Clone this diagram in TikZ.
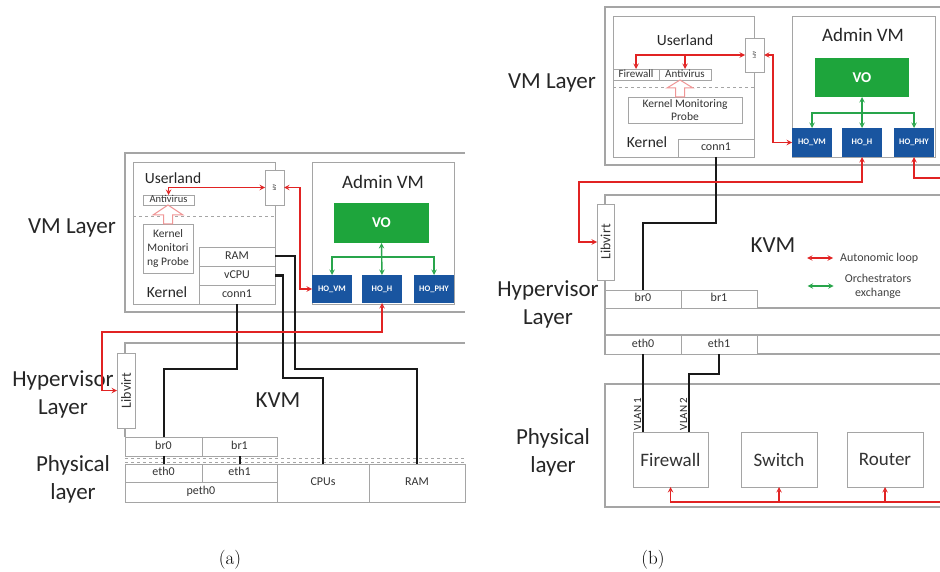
\documentclass[tikz,border=0pt]{standalone}
\usepackage{fontspec}
\setsansfont{Carlito}
\renewcommand{\familydefault}{\sfdefault}
\usetikzlibrary{arrows}
\definecolor{loopred}{RGB}{225,35,35}
\definecolor{orchgreen}{RGB}{40,165,75}
\definecolor{vogreen}{RGB}{30,165,60}
\definecolor{hoblue}{RGB}{25,85,160}
\definecolor{framegray}{RGB}{165,165,165}
\definecolor{probepink}{RGB}{240,150,150}
\tikzset{
	>=stealth, % small solid heads
	box/.style={draw=framegray, line width=0.9pt, fill=white, inner sep=0pt, outer sep=0pt, text=black!80, align=center}, % plain grey box
	cell/.style={box, text height=1.5ex, text depth=.3ex, font=\fontsize{12}{14}\selectfont}, % one-line grey box
	ho/.style={fill=hoblue, inner sep=0pt, outer sep=0pt, text=white, font=\bfseries\fontsize{8.5}{10}\selectfont, minimum width=40pt, minimum height=28pt}, % host orchestrators
	vo/.style={fill=vogreen, inner sep=0pt, outer sep=0pt, text=white, font=\bfseries\fontsize{15}{17}\selectfont}, % VM orchestrator
	layerline/.style={draw=framegray, line width=1.1pt}, % frame of a layer
	layertext/.style={font=\fontsize{23}{28}\selectfont, align=center, text=black!85, inner sep=0pt}, % layer names
	headtext/.style={font=\fontsize{15.5}{18}\selectfont, text=black!85, inner sep=0pt}, % Userland, Kernel
	admintext/.style={font=\fontsize{19}{22}\selectfont, text=black!85, inner sep=0pt},
	legend/.style={font=\fontsize{12}{14}\selectfont, text=black!75, inner sep=0pt, align=center},
	vlan/.style={font=\fontsize{11}{13}\selectfont, text=black!85, inner sep=1pt},
	autoloop/.style={draw=loopred, line width=1.4pt, <->}, % red loop
	orch/.style={draw=orchgreen, line width=1.4pt, <->}, % green exchange
	wire/.style={draw=black!90, line width=2pt}, % black links
	probe/.style={draw=probepink, line width=1pt, fill=white}, % hollow arrow
}
\begin{document}
\begin{tikzpicture}[x=1pt, y=-1pt]
	\useasboundingbox (0,0) rectangle (940,572);

	% ---------- (a) ----------
	\draw[layerline] (465,153) -- (125,153) -- (125,312) -- (465,312);
	\draw[layerline] (465,343) -- (125,343) -- (125,437);
	\draw[framegray, dashed, line width=0.7pt] (125,458) -- (465,458) (125,462) -- (465,462);

	\node[box, minimum width=142pt, minimum height=142pt] (guestA) at (204,233) {};
	\draw[framegray, dashed, line width=0.8pt] (133,216) -- (275,216);
	\node[headtext] (userA) at (173,178) {Userland};
	\node[headtext] (kernA) at (167,292) {Kernel};
	\node[cell, font=\fontsize{10.5}{12}\selectfont, minimum width=51pt, minimum height=10pt] (avA) at (168.5,200) {Antivirus};
	\node[box, font=\fontsize{11.5}{14}\selectfont, minimum width=50pt, minimum height=49pt] (kmpA) at (168,248.5) {Kernel\\Monitori\\ng Probe};
	\node[cell, minimum width=76pt, minimum height=19pt] (ramA) at (237,256.5) {RAM};
	\node[cell, minimum width=76pt, minimum height=19pt] (vcpuA) at (237,275.5) {vCPU};
	\node[cell, minimum width=76pt, minimum height=19pt] (conn1A) at (237,294.5) {conn1};
	\node[box, font=\fontsize{5}{6}\selectfont, minimum width=19pt, minimum height=35pt] (apiA) at (274.5,187.5) {\rotatebox{-90}{API}};
	\draw[probe, shift={(kmpA.north)}] (-4.5,0) -- (-4.5,-9) -- (-15,-9) -- (0,-19) -- (15,-9) -- (4.5,-9) -- (4.5,0) -- cycle;

	\node[box, minimum width=142pt, minimum height=142pt] (adminA) at (383,233) {};
	\node[admintext] (admtA) at (383,182) {Admin VM};
	\node[vo, minimum width=95pt, minimum height=40pt] (voA) at (381.5,223) {VO};
	\node[ho] (hovmA) at (332,289) {HO\_VM};
	\node[ho] (hohA) at (382,289) {HO\_H};
	\node[ho] (hophyA) at (434,289) {HO\_PHY};

	\node[box, font=\fontsize{14}{16}\selectfont, minimum width=18pt, minimum height=75pt] (libvirtA) at (126,390.5) {\rotatebox{90}{Libvirt}};
	\node[layertext] (kvmA) at (278,400) {KVM};
	\node[cell, minimum width=77pt, minimum height=19pt] (br0A) at (163.5,446.5) {br0};
	\node[cell, minimum width=75pt, minimum height=19pt] (br1A) at (239.5,446.5) {br1};
	\node[cell, minimum width=77pt, minimum height=18pt] (eth0A) at (163.5,473) {eth0};
	\node[cell, minimum width=75pt, minimum height=18pt] (eth1A) at (239.5,473) {eth1};
	\node[cell, minimum width=152pt, minimum height=20pt] (peth0A) at (201,492) {peth0};
	\node[cell, minimum width=92pt, minimum height=38pt] (cpusA) at (323,483) {CPUs};
	\node[cell, minimum width=96pt, minimum height=38pt] (ramhA) at (417,483) {RAM};

	\node[layertext] (vmlA) at (72,228) {VM Layer};
	\node[layertext] (hvlA) at (63,394) {Hypervisor\\Layer};
	\node[layertext] (phlA) at (73,479) {Physical\\layer};

	\draw[wire] (conn1A.south) -- ++(0,65) -| (br0A.north);
	\draw[wire] (vcpuA.east) -- ++(8,0) -- ++(0,102) -| (cpusA.north);
	\draw[wire] (ramA.east) -- ++(20,0) -- ++(0,112) -| (ramhA.north);
	\draw[wire] (br0A.south) -- (eth0A.north);
	\draw[wire] (br1A.south) -- (eth1A.north);

	\draw[autoloop] (avA.north) |- (apiA.west);
	\draw[autoloop] (apiA.east) -- ++(16,0) |- (hovmA.west);
	\draw[autoloop] (hohA.south) -- ++(0,29) -| ([xshift=-15pt]libvirtA.west) -- (libvirtA.west);
	\draw[orch] (voA.south) -- (hohA.north);
	\draw[orch] (hovmA.north) -- ++(0,-18) -| (hophyA.north);

	% ---------- (b) ----------
	\draw[layerline] (940,7) -- (605,7) -- (605,165) -- (940,165);
	\draw[layerline] (940,195) -- (605,195) -- (605,354) -- (940,354);
	\draw[layerline] (605,308) -- (940,308) (605,335) -- (940,335);
	\draw[layerline] (940,384) -- (605,384) -- (605,507) -- (940,507);

	\node[box, minimum width=141pt, minimum height=141pt] (guestB) at (683.5,86.5) {};
	\draw[framegray, dashed, line width=0.8pt] (613,87) -- (754,87);
	\node[headtext] (userB) at (685,40) {Userland};
	\node[headtext] (kernB) at (647,142) {Kernel};
	\node[cell, font=\fontsize{11}{12}\selectfont, minimum width=46pt, minimum height=11pt] (fwsB) at (636,74.5) {Firewall};
	\node[cell, font=\fontsize{11}{12}\selectfont, minimum width=52pt, minimum height=11pt] (avB) at (685,74.5) {Antivirus};
	\node[box, font=\fontsize{11.5}{13}\selectfont, minimum width=114pt, minimum height=26pt] (kmpB) at (685,110) {Kernel Monitoring\\Probe};
	\node[cell, minimum width=76pt, minimum height=18pt] (conn1B) at (716,148) {conn1};
	\node[box, font=\fontsize{5}{6}\selectfont, minimum width=19pt, minimum height=34pt] (apiB) at (754.5,55) {\rotatebox{-90}{API}};
	\draw[probe, shift={([xshift=-5pt]kmpB.north)}] (-4.5,0) -- (-4.5,-9) -- (-13,-9) -- (0,-17) -- (13,-9) -- (4.5,-9) -- (4.5,0) -- cycle;

	\node[box, minimum width=143pt, minimum height=141pt] (adminB) at (863.5,86.5) {};
	\node[admintext] (admtB) at (863,35) {Admin VM};
	\node[vo, minimum width=94pt, minimum height=39pt] (voB) at (862,77.5) {VO};
	\node[ho, minimum height=29pt] (hovmB) at (812,142.5) {HO\_VM};
	\node[ho, minimum height=29pt] (hohB) at (862,142.5) {HO\_H};
	\node[ho, minimum height=29pt] (hophyB) at (914,142.5) {HO\_PHY};

	\node[box, font=\fontsize{14}{16}\selectfont, minimum width=17pt, minimum height=76pt] (libvirtB) at (605.5,242) {\rotatebox{90}{Libvirt}};
	\node[layertext] (kvmB) at (773,245) {KVM};
	\node[cell, minimum width=76pt, minimum height=18pt] (br0B) at (643,299) {br0};
	\node[cell, minimum width=76pt, minimum height=18pt] (br1B) at (719,299) {br1};
	\node[cell, minimum width=76pt, minimum height=19pt] (eth0B) at (643,344.5) {eth0};
	\node[cell, minimum width=76pt, minimum height=19pt] (eth1B) at (719,344.5) {eth1};

	\node[legend, anchor=west] (lgLoop) at (840,258) {Autonomic loop};
	\draw[autoloop] ([xshift=-33pt]lgLoop.west) -- ([xshift=-7pt]lgLoop.west);
	\node[legend] (lgOrch) at (878,286) {Orchestrators\\exchange};
	\draw[orch] ([xshift=-37pt]lgOrch.west) -- ([xshift=-11pt]lgOrch.west);

	\node[box, font=\fontsize{19}{22}\selectfont, minimum width=75pt, minimum height=55pt] (fwB) at (670.5,459.5) {Firewall};
	\node[box, font=\fontsize{19}{22}\selectfont, minimum width=76pt, minimum height=55pt] (swB) at (779,459.5) {Switch};
	\node[box, font=\fontsize{19}{22}\selectfont, minimum width=76pt, minimum height=55pt] (rtB) at (885,459.5) {Router};

	\node[layertext] (vmlB) at (552,83) {VM Layer};
	\node[layertext] (hvlB) at (548,304) {Hypervisor\\Layer};
	\node[layertext] (phlB) at (553,452) {Physical\\layer};

	\draw[wire] (conn1B.south) -- ++(0,66) -| (br0B.north);
	\draw[wire] (eth0B.south) -- (eth0B.south |- fwB.north) node[vlan, pos=1, anchor=south east] {\rotatebox{90}{VLAN 1}};
	\draw[wire] (eth1B.south) -- ++(0,20) -| ([xshift=18.5pt]fwB.north) node[vlan, pos=1, anchor=south east] {\rotatebox{90}{VLAN 2}};

	\coordinate (edgeB) at (940,178);
	\coordinate (busB) at (940,502);
	\draw[autoloop] (fwsB.north) |- (apiB.west);
	\draw[autoloop, <-] (avB.north) -- (avB.north |- apiB.west);
	\draw[autoloop] (apiB.east) -- ++(9,0) |- (hovmB.west);
	\draw[autoloop] (hohB.south) -- ++(0,25) -| ([xshift=-18pt]libvirtB.west) -- (libvirtB.west);
	\draw[autoloop, <-] (hophyB.south) |- (edgeB);
	\draw[autoloop, ->] (busB) -| (fwB.south);
	\draw[autoloop, ->] (swB.south |- busB) -- (swB.south);
	\draw[autoloop, ->] (rtB.south |- busB) -- (rtB.south);
	\draw[orch] (voB.south) -- (hohB.north);
	\draw[orch] (hovmB.north) -- ++(0,-15) -| (hophyB.north);

	% captions
	\node[font=\rmfamily\fontsize{19}{22}\selectfont, inner sep=0pt] (capA) at (230,560) {(a)};
	\node[font=\rmfamily\fontsize{19}{22}\selectfont, inner sep=0pt] (capB) at (653,560) {(b)};
\end{tikzpicture}
\end{document}
